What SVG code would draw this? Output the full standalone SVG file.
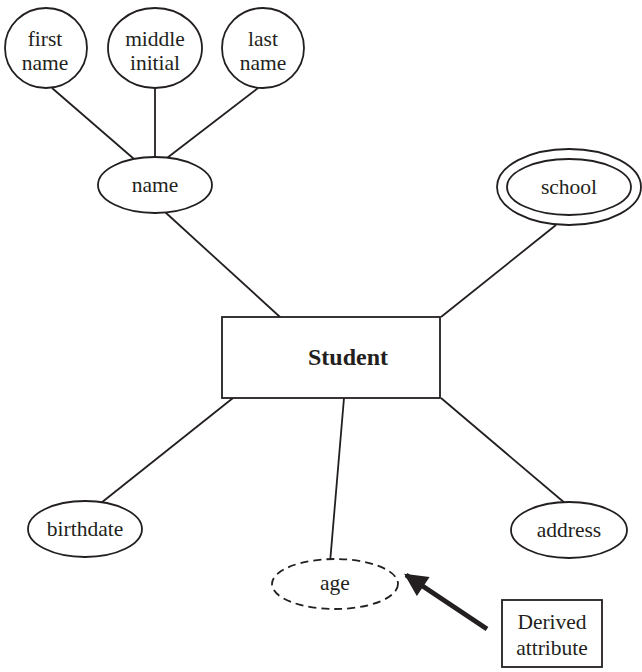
<svg xmlns="http://www.w3.org/2000/svg" width="642" height="672" viewBox="0 0 642 672">
  <style>
    .shape { fill: #fff; stroke: #231f20; stroke-width: 1.8; }
    .dashed { stroke-dasharray: 8 5; }
    .link { stroke: #231f20; stroke-width: 1.8; fill: none; }
    text { font-family: "Liberation Serif", "Times New Roman", serif; font-size: 21.5px; fill: #231f20; text-anchor: middle; }
    .bold { font-weight: bold; font-size: 24px; }
  </style>
  <defs>
    <marker id="arrowhead" viewBox="0 0 10 10" refX="9" refY="5" markerWidth="5" markerHeight="4.6" orient="auto" markerUnits="strokeWidth">
      <path d="M0,0 L10,5 L0,10 z" fill="#231f20"/>
    </marker>
  </defs>

  <!-- connectors between attributes and entities -->
  <g id="connectors">
    <line class="link" x1="52" y1="88" x2="134" y2="159"/>
    <line class="link" x1="155" y1="88" x2="155" y2="157"/>
    <line class="link" x1="258" y1="88" x2="167" y2="158"/>
    <line class="link" x1="165" y1="212" x2="280" y2="317"/>
    <line class="link" x1="556" y1="225" x2="441" y2="317"/>
    <line class="link" x1="233" y1="398" x2="101" y2="503"/>
    <line class="link" x1="344" y1="398" x2="330" y2="563"/>
    <line class="link" x1="441" y1="398" x2="566" y2="504"/>
    <line x1="487" y1="629" x2="406" y2="575" stroke="#231f20" stroke-width="5" marker-end="url(#arrowhead)"/>
  </g>

  <g id="first-name">
    <ellipse class="shape" cx="46" cy="48" rx="41" ry="40"/>
    <text x="45" y="46">first</text>
    <text x="45" y="70">name</text>
  </g>
  <g id="middle-initial">
    <ellipse class="shape" cx="155" cy="48" rx="47" ry="40"/>
    <text x="155" y="46">middle</text>
    <text x="155" y="70">initial</text>
  </g>
  <g id="last-name">
    <ellipse class="shape" cx="263" cy="48" rx="41" ry="40"/>
    <text x="263" y="46">last</text>
    <text x="263" y="70">name</text>
  </g>
  <g id="name">
    <ellipse class="shape" cx="155" cy="185" rx="57" ry="28"/>
    <text x="155" y="192">name</text>
  </g>
  <g id="school">
    <ellipse class="shape" cx="569" cy="187" rx="72" ry="38"/>
    <ellipse class="shape" cx="569" cy="187" rx="62" ry="28"/>
    <text x="569" y="194">school</text>
  </g>
  <g id="student">
    <rect class="shape" x="222" y="317" width="218" height="81"/>
    <text class="bold" x="348" y="365">Student</text>
  </g>
  <g id="birthdate">
    <ellipse class="shape" cx="85" cy="529" rx="57" ry="28"/>
    <text x="85" y="536">birthdate</text>
  </g>
  <g id="age">
    <ellipse class="shape dashed" cx="335" cy="584" rx="63" ry="25"/>
    <text x="335" y="590">age</text>
  </g>
  <g id="address">
    <ellipse class="shape" cx="569" cy="530" rx="58" ry="28"/>
    <text x="569" y="537">address</text>
  </g>
  <g id="derived-attribute">
    <rect class="shape" x="502" y="600" width="100" height="67"/>
    <text x="552" y="629">Derived</text>
    <text x="552" y="655">attribute</text>
  </g>
</svg>
